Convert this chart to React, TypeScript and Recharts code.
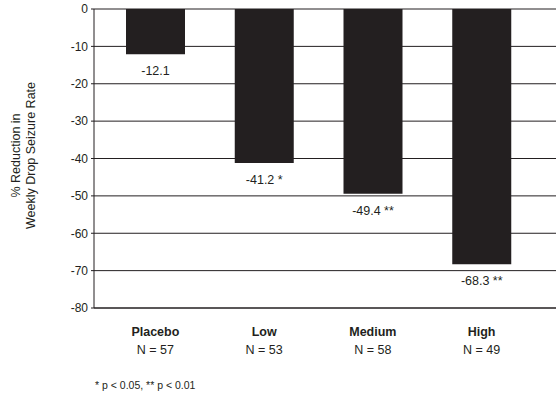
import { BarChart, Bar, XAxis, YAxis, CartesianGrid, LabelList } from 'recharts';

const groups = ['Placebo', 'Low', 'Medium', 'High'];
const groupN = [57, 53, 58, 49];
const reduction = [-12.1, -41.2, -49.4, -68.3];
const significance = ['', '*', '**', '**'];
const yTicks = [0, -10, -20, -30, -40, -50, -60, -70, -80];

const data = groups.map((g, i) => ({
  name: g,
  n: groupN[i],
  value: reduction[i],
  sig: significance[i],
}));

const FONT = '"Liberation Sans", Arial, sans-serif';

function GroupTick(props: any) {
  const { x, y, payload, index } = props;
  return (
    <g>
      <text x={x} y={y + 28} textAnchor="middle" fontFamily={FONT} fontSize={12.5} fontWeight="bold" fill="#231f20">
        {payload.value}
      </text>
      <text x={x} y={y + 46} textAnchor="middle" fontFamily={FONT} fontSize={12.5} fill="#231f20">
        N = {groupN[index]}
      </text>
    </g>
  );
}

function ValueLabel(props: any) {
  const { x, y, width, height, index } = props;
  const bottom = Math.max(y, y + height);
  const sig = significance[index];
  return (
    <text x={x + width / 2} y={bottom + 21} textAnchor="middle" fontFamily={FONT} fontSize={12.5} fill="#231f20">
      {reduction[index].toFixed(1)}
      {sig ? ' ' + sig : ''}
    </text>
  );
}

function AxisTitle(props: any) {
  const vb = props.viewBox;
  const cy = vb.y + vb.height / 2 - 3;
  return (
    <g fontFamily={FONT} fontSize={12.5} fill="#231f20">
      <text x={vb.x + 20} y={cy} textAnchor="middle" transform={`rotate(-90 ${vb.x + 20} ${cy})`}>
        % Reduction in
      </text>
      <text x={vb.x + 35} y={cy} textAnchor="middle" transform={`rotate(-90 ${vb.x + 35} ${cy})`}>
        Weekly Drop Seizure Rate
      </text>
    </g>
  );
}

export default function App() {
  return (
    <div style={{ position: 'absolute', left: 0, top: 0, width: 558, height: 396, background: '#fff' }}>
      <BarChart width={558} height={396} data={data} margin={{ top: 9, right: 2, bottom: 28, left: 0 }}>
        <CartesianGrid vertical={false} stroke="#231f20" strokeOpacity={1} />
        <XAxis
          dataKey="name"
          tick={<GroupTick />}
          tickLine={false}
          tickSize={0}
          tickMargin={0}
          axisLine={{ stroke: '#231f20' }}
          height={60}
          padding={{ left: 7, right: 20 }}
          interval={0}
        />
        <YAxis
          domain={[-80, 0]}
          ticks={yTicks}
          width={94}
          tickLine={{ stroke: '#231f20' }}
          tickSize={3}
          tickMargin={3}
          axisLine={{ stroke: '#231f20' }}
          tick={{ fill: '#231f20', fontSize: 12, fontFamily: FONT }}
          label={{ content: <AxisTitle /> }}
          allowDataOverflow
        />
        <YAxis
          yAxisId="frame"
          orientation="right"
          domain={[-80, 0]}
          width={0}
          tick={false}
          tickLine={false}
          axisLine={{ stroke: '#231f20' }}
        />
        <Bar dataKey="value" fill="#231f20" barSize={59} isAnimationActive={false}>
          <LabelList dataKey="value" content={<ValueLabel />} />
        </Bar>
      </BarChart>
      <div
        style={{
          position: 'absolute',
          left: 95,
          top: 379,
          fontFamily: FONT,
          fontSize: 10.5,
          lineHeight: '12px',
          color: '#231f20',
          whiteSpace: 'nowrap',
        }}
      >
        * p &lt; 0.05, ** p &lt; 0.01
      </div>
    </div>
  );
}
